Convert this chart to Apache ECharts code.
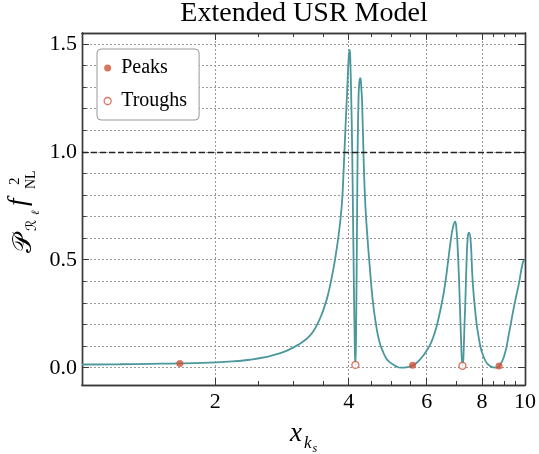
<!DOCTYPE html>
<html>
<head>
<meta charset="utf-8">
<script src="https://cdn.jsdelivr.net/npm/echarts@6/dist/echarts.min.js"></script>
<style>
  html, body { margin: 0; padding: 0; background: #fff; }
  #chart { width: 539px; height: 454px; }
</style>
</head>
<body>
<div id="chart"></div>
<script>
// curve (x on log scale)
var xVals = [1.000, 1.218, 1.423, 1.663, 1.943, 2.188, 2.390, 2.610, 2.792, 2.941, 3.098, 3.179,
  3.262, 3.331, 3.401, 3.473, 3.527, 3.583, 3.639, 3.696, 3.744, 3.793, 3.833, 3.867, 3.893, 3.927,
  3.968, 4.001, 4.022, 4.036, 4.050, 4.072, 4.088, 4.105, 4.124, 4.141, 4.158, 4.174, 4.191, 4.210,
  4.228, 4.251, 4.272, 4.288, 4.324, 4.361, 4.414, 4.453, 4.530, 4.610, 4.690, 4.772, 4.856, 4.940,
  5.123, 5.248, 5.395, 5.575, 5.710, 5.871, 6.000, 6.131, 6.238, 6.345, 6.512, 6.604, 6.683, 6.802,
  6.883, 6.955, 7.003, 7.039, 7.102, 7.164, 7.224, 7.314, 7.375, 7.428, 7.479, 7.545, 7.608, 7.715,
  7.877, 8.084, 8.369, 8.590, 8.739, 8.969, 9.204, 9.446, 9.694, 9.897, 10.0]
var yVals = [0.015, 0.016, 0.018, 0.020, 0.024, 0.029, 0.037, 0.050, 0.066, 0.085, 0.110, 0.126,
  0.146, 0.170, 0.203, 0.245, 0.284, 0.330, 0.390, 0.460, 0.530, 0.610, 0.690, 0.780, 0.900, 1.080,
  1.280, 1.440, 1.472, 1.400, 1.280, 1.020, 0.750, 0.450, 0.160, 0.005, 0.200, 0.600, 1.020, 1.250,
  1.325, 1.341, 1.290, 1.233, 0.955, 0.755, 0.590, 0.490, 0.315, 0.200, 0.122, 0.078, 0.045, 0.027,
  0.006, 0.000, 0.002, 0.010, 0.025, 0.052, 0.080, 0.114, 0.155, 0.207, 0.315, 0.390, 0.469, 0.593,
  0.654, 0.677, 0.640, 0.577, 0.392, 0.160, 0.006, 0.238, 0.469, 0.608, 0.626, 0.577, 0.423, 0.268,
  0.130, 0.045, 0.006, 0.000, 0.006, 0.052, 0.160, 0.284, 0.392, 0.490, 0.500]

var peaks = [[1.663, 0.020], [5.575, 0.012], [8.739, 0.008]]
var troughs = [[4.141, 0.013], [7.224, 0.009]]

var xLabelTicks = [2, 4, 6, 8, 10]
var xMajorTicks = [2, 4, 6, 8]
var xMinorTicks = [2.5, 3, 3.5, 4.5, 5, 5.5, 7, 8.5, 9, 9.5]
var yLabelTicks = [0, 0.5, 1.0, 1.5]
var yMinorTicks = [0, 0.1, 0.2, 0.3, 0.4, 0.5, 0.6, 0.7, 0.8, 0.9, 1.0, 1.1, 1.2, 1.3, 1.4, 1.5]
var refLine = 1.0

var serif = '"Liberation Serif", "DejaVu Serif", serif'
var teal = '#4a979c'
var red = '#cf5337'
var frame = '#3a3a3a'

var curve = xVals.map(function (x, i) { return [x, yVals[i]] })

function xAx(pos, ticks, len, withLabels) {
  return {
    type: 'log', logBase: 10, min: 1, max: 10, position: pos,
    axisLine: { show: true, onZero: false, lineStyle: { color: frame, width: 1.4 } },
    axisTick: { show: true, inside: true, length: len, customValues: ticks, lineStyle: { color: frame, width: 1 } },
    axisLabel: withLabels ? {
      show: true, customValues: xLabelTicks, margin: 6,
      color: '#000', fontFamily: serif, fontSize: 22
    } : { show: false },
    splitLine: withLabels ? { show: true, lineStyle: { color: '#999', type: [2, 2], width: 1 } } : { show: false },
    minorTick: { show: false }
  }
}

function yAx(pos, ticks, len, withLabels) {
  return {
    type: 'value', min: -0.08, max: 1.55, position: pos,
    axisLine: { show: true, onZero: false, lineStyle: { color: frame, width: 1.4 } },
    axisTick: { show: true, inside: true, length: len, customValues: ticks, lineStyle: { color: frame, width: 1 } },
    axisLabel: withLabels ? {
      show: true, customValues: yLabelTicks, margin: 5,
      color: '#000', fontFamily: serif, fontSize: 22,
      formatter: function (v) { return v.toFixed(1) }
    } : { show: false },
    splitLine: withLabels ? { show: true, lineStyle: { color: '#999', type: [2, 2], width: 1 } } : { show: false }
  }
}

var chart = echarts.init(document.getElementById('chart'))
chart.setOption({
  animation: false,
  backgroundColor: '#fff',
  grid: { left: 82, right: 13, top: 33, bottom: 69 },
  xAxis: [
    xAx('bottom', xMajorTicks, 7, true),
    xAx('bottom', xMinorTicks, 4, false),
    xAx('top', xMajorTicks, 7, false),
    xAx('top', xMinorTicks, 4, false)
  ],
  yAxis: [
    yAx('left', yMinorTicks, 4, true),
    yAx('left', yLabelTicks, 7, false),
    yAx('right', yMinorTicks, 4, false),
    yAx('right', yLabelTicks, 7, false)
  ],
  legend: {
    left: 97, top: 49,
    orient: 'vertical',
    itemWidth: 17, itemHeight: 7, itemGap: 13,
    padding: [9, 12, 9, 6.5],
    backgroundColor: '#fff',
    borderColor: '#999', borderWidth: 1, borderRadius: 4,
    textStyle: { color: '#000', fontFamily: serif, fontSize: 20, lineHeight: 20 },
    data: [
      { name: 'Peaks', icon: 'circle', itemStyle: { color: red, borderWidth: 0 } },
      { name: 'Troughs', icon: 'circle', itemStyle: { color: '#fff', borderColor: red, borderWidth: 1.3 } }
    ]
  },
  series: [
    {
      name: 'curve', type: 'line', data: curve,
      showSymbol: false, smooth: 0.5,
      lineStyle: { color: teal, width: 1.8 },
      markLine: {
        silent: true, symbol: 'none', label: { show: false },
        lineStyle: { color: '#222', type: [6, 3], width: 1.4 },
        data: [{ yAxis: refLine }]
      }
    },
    {
      name: 'Peaks', type: 'scatter', data: peaks, symbol: 'circle', symbolSize: 7,
      itemStyle: { color: red }, z: 5
    },
    {
      name: 'Troughs', type: 'scatter', data: troughs, symbol: 'circle', symbolSize: 7,
      itemStyle: { color: '#fff', borderColor: red, borderWidth: 1.3 }, z: 5
    }
  ],
  graphic: [
    {
      type: 'text', x: 304, y: 14,
      style: { text: 'Extended USR Model', fill: '#000', font: '28px ' + serif, textAlign: 'center', textVerticalAlign: 'middle' }
    },
    // x axis name: x_{k_s}
    {
      type: 'group', x: 0, y: 0,
      children: [
        { type: 'text', x: 290, y: 434, style: { text: 'x', fill: '#000', font: 'italic 27px ' + serif, textVerticalAlign: 'middle' } },
        { type: 'text', x: 304, y: 444, style: { text: 'k', fill: '#000', font: 'italic 17px ' + serif, textVerticalAlign: 'middle' } },
        { type: 'text', x: 312.5, y: 449, style: { text: 's', fill: '#000', font: 'italic 12px ' + serif, textVerticalAlign: 'middle' } }
      ]
    },
    // y axis name: P_{R_l} f_NL^2, rotated
    {
      type: 'group', x: 27, y: 211, rotation: Math.PI / 2,
      children: [
        { type: 'text', x: -42, y: -3, style: { text: '𝒫', fill: '#000', font: '26px "DejaVu Serif", "DejaVu Sans", serif', textVerticalAlign: 'middle' } },
        { type: 'text', x: -20, y: 5, style: { text: 'ℛ', fill: '#000', font: '14px "DejaVu Serif", "DejaVu Sans", serif', textVerticalAlign: 'middle' } },
        { type: 'text', x: -4, y: 9, style: { text: 'ℓ', fill: '#000', font: 'italic 11px "DejaVu Serif", serif', textVerticalAlign: 'middle' } },
        { type: 'text', x: 5, y: -8, style: { text: 'f', fill: '#000', font: 'italic 27px ' + serif, textVerticalAlign: 'middle' } },
        { type: 'text', x: 26, y: -12, style: { text: '2', fill: '#000', font: '15px ' + serif, textVerticalAlign: 'middle' } },
        { type: 'text', x: 22, y: 4, style: { text: 'NL', fill: '#000', font: '14px ' + serif, textVerticalAlign: 'middle' } }
      ]
    }
  ]
})
</script>
</body>
</html>
